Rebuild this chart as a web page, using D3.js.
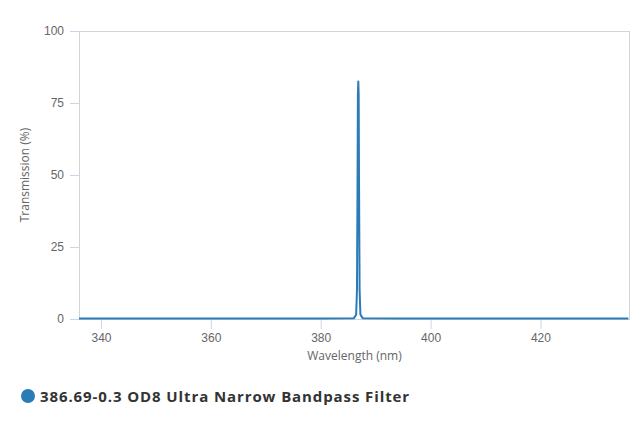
<!DOCTYPE html>
<html>
<head>
<meta charset="utf-8">
<script src="https://cdn.jsdelivr.net/npm/d3@7"></script>
<style>
  body { margin: 0; background: #fff; }
  svg { display: block; font-family: "Open Sans", "DejaVu Sans", sans-serif; }
</style>
</head>
<body>
<svg width="640" height="427"></svg>
<script>
// transmission curve
const wavelengths = [336, 380, 386.05, 386.45, 386.6, 386.7, 386.77, 386.84, 386.91, 386.98, 387.08, 387.23, 387.65, 395, 436];
const transmission = [0.2, 0.2, 0.3, 1.5, 10, 45, 78, 82.5, 78, 45, 10, 1.5, 0.3, 0.2, 0.2];
const xTicks = [340, 360, 380, 400, 420];
const yTicks = [0, 25, 50, 75, 100];
const seriesName = "386.69-0.3 OD8 Ultra Narrow Bandpass Filter";

const svg = d3.select("svg");
const margin = { left: 79, right: 10, top: 31, bottom: 108 };
const width = +svg.attr("width");
const height = +svg.attr("height");

const x = d3.scaleLinear().domain([336, 436.3]).range([margin.left, width - margin.right]);
const y = d3.scaleLinear().domain([0, 100]).range([height - margin.bottom, margin.top]);

const data = wavelengths.map((w, i) => ({ w: w, t: transmission[i] }));

// plot frame
svg.append("rect")
  .attr("x", margin.left + 0.5)
  .attr("y", y(100) + 0.5)
  .attr("width", x.range()[1] - margin.left - 1)
  .attr("height", y(0) - y(100))
  .attr("fill", "none")
  .attr("stroke", "#d4d4d4")
  .attr("stroke-width", 1);

/* Y axis */
const yAxis = svg.append("g")
  .attr("transform", `translate(${margin.left},0)`)
  .call(d3.axisLeft(y).tickValues(yTicks).tickSize(9).tickPadding(6));
yAxis.select(".domain").remove();
yAxis.selectAll(".tick line").attr("stroke", "#ccd6eb");
yAxis.selectAll(".tick text").attr("fill", "#666").style("font-size", "12px");

/* X axis */
const xAxis = svg.append("g")
  .attr("transform", `translate(0,${y(0)})`)
  .call(d3.axisBottom(x).tickValues(xTicks).tickSize(10).tickPadding(4));
xAxis.select(".domain").remove();
xAxis.selectAll(".tick line").attr("stroke", "#ccd6eb");
xAxis.selectAll(".tick text").attr("fill", "#666").style("font-size", "12px");

// axis titles
svg.append("text")
  .attr("transform", `translate(29,${(y(0) + y(100)) / 2}) rotate(-90)`)
  .attr("text-anchor", "middle")
  .attr("fill", "#666")
  .style("font-size", "12px")
  .text("Transmission (%)");

svg.append("text")
  .attr("x", (margin.left + x.range()[1]) / 2)
  .attr("y", 360)
  .attr("text-anchor", "middle")
  .attr("fill", "#666")
  .style("font-size", "12px")
  .text("Wavelength (nm)");

/* series */
const line = d3.line().x(d => x(d.w)).y(d => y(d.t));
svg.append("path")
  .datum(data)
  .attr("d", line)
  .attr("fill", "none")
  .attr("stroke", "#2b7bb9")
  .attr("stroke-width", 2)
  .attr("stroke-linejoin", "round");

/* legend */
svg.append("circle")
  .attr("cx", 28)
  .attr("cy", 396)
  .attr("r", 7)
  .attr("fill", "#2b7bb9");

svg.append("text")
  .attr("x", 40)
  .attr("y", 402)
  .attr("fill", "#333")
  .style("font-size", "15px")
  .style("font-weight", "bold")
  .style("letter-spacing", "0.9px")
  .text(seriesName);
</script>
</body>
</html>
